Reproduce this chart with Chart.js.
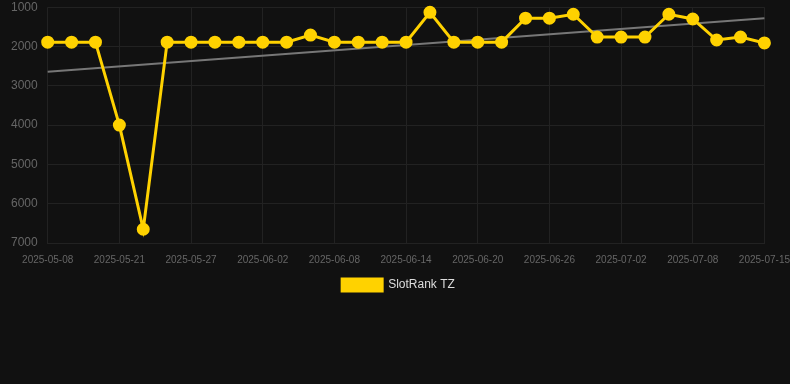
<!DOCTYPE html>
<html>
<head>
<meta charset="utf-8">
<style>
  html, body { margin: 0; padding: 0; background: #111111; }
  #wrap { width: 790px; height: 384px; position: relative; }
</style>
<script src="https://cdn.jsdelivr.net/npm/chart.js@4"></script>
</head>
<body>
<div id="wrap"><canvas id="myChart"></canvas></div>
<script>
// dates on the x axis (only every third one is shown)
const dates = [
  '2025-05-08', '2025-05-13', '2025-05-17', '2025-05-21', '2025-05-23', '2025-05-25',
  '2025-05-27', '2025-05-29', '2025-05-31', '2025-06-02', '2025-06-04', '2025-06-06',
  '2025-06-08', '2025-06-10', '2025-06-12', '2025-06-14', '2025-06-16', '2025-06-18',
  '2025-06-20', '2025-06-22', '2025-06-24', '2025-06-26', '2025-06-28', '2025-06-30',
  '2025-07-02', '2025-07-04', '2025-07-06', '2025-07-08', '2025-07-10', '2025-07-12',
  '2025-07-15'
];

// rank values
const rankTZ = [
  1890, 1890, 1890, 4000, 6650, 1890,
  1890, 1890, 1890, 1890, 1890, 1710,
  1890, 1890, 1890, 1890, 1130, 1890,
  1890, 1890, 1280, 1280, 1180, 1760,
  1760, 1760, 1180, 1300, 1835, 1760,
  1910
];

// trend line ends
const trendStart = 2640;
const trendEnd = 1280;

const yTicks = [1000, 2000, 3000, 4000, 5000, 6000, 7000];

let trend = dates.map(() => null);
trend[0] = trendStart;
trend[trend.length - 1] = trendEnd;

let ctx = document.getElementById('myChart').getContext('2d');
let chart = new Chart(ctx, {
    type: 'line',
    data: {
        labels: dates,
        datasets: [{
            label: 'SlotRank TZ',
            data: rankTZ,
            borderColor: '#ffd200',
            backgroundColor: '#ffd200',
            borderWidth: 3,
            pointRadius: 5,
            pointHoverRadius: 5,
            tension: 0,
            clip: false
        }, {
            label: 'trend',
            data: trend,
            borderColor: '#777777',
            borderWidth: 2,
            pointRadius: 0,
            spanGaps: true,
            clip: false
        }]
    },
    options: {
        responsive: true,
        maintainAspectRatio: false,
        animation: false,
        layout: { autoPadding: false, padding: { left: 11, right: 4, top: 0, bottom: 83 } },
        plugins: {
            legend: {
                position: 'bottom',
                labels: {
                    color: '#dddddd',
                    font: { family: 'Liberation Sans, Arial', size: 12 },
                    boxWidth: 40,
                    boxHeight: 12,
                    padding: 13,
                    filter: (item) => item.text !== 'trend'
                }
            },
            tooltip: { enabled: false }
        },
        scales: {
            x: {
                grid: { color: '#222222', drawTicks: true, tickLength: 11, tickColor: 'rgba(0,0,0,0)' },
                border: { color: '#222222' },
                ticks: {
                    color: '#666666',
                    font: { family: 'Liberation Sans, Arial', size: 10 },
                    maxRotation: 0,
                    autoSkip: true,
                    padding: 0,
                    callback: function(v, i) { return i % 3 === 0 ? dates[i] : null; }
                }
            },
            y: {
                reverse: true,
                min: 1000,
                max: 7000,
                afterBuildTicks: (axis) => { axis.ticks = yTicks.map(v => ({ value: v })); },
                grid: { color: '#222222', drawTicks: true, tickLength: 10, tickColor: 'rgba(0,0,0,0)' },
                border: { display: false },
                ticks: {
                    color: '#666666',
                    font: { family: 'Liberation Sans, Arial', size: 12 },
                    padding: 0,
                    callback: (v) => String(v)
                }
            }
        }
    }
});
</script>
</body>
</html>
